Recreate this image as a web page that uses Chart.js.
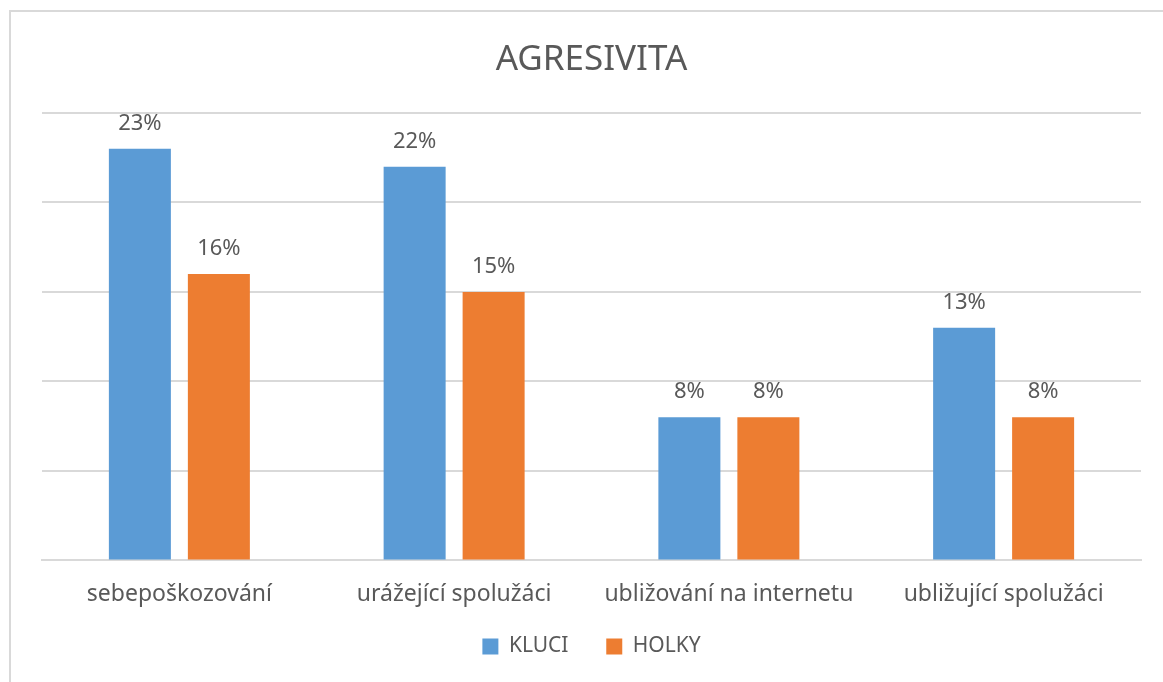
<!DOCTYPE html>
<html>
<head>
<meta charset="utf-8">
<script src="https://cdn.jsdelivr.net/npm/chart.js@4.4.0/dist/chart.umd.min.js"></script>
<style>
  html, body { margin: 0; padding: 0; background: #fff; }
  #frame {
    position: absolute; left: 9px; top: 10px; width: 1154px; height: 672px;
    border-left: 2px solid #d9d9d9; border-top: 2px solid #d9d9d9;
  }
  #wrap { position: absolute; left: 0; top: 0; width: 1163px; height: 682px; }
</style>
</head>
<body>
<div id="frame"></div>
<div id="wrap"><canvas id="myChart"></canvas></div>
<script>
const categories = ['sebepoškozování', 'urážející spolužáci', 'ubližování na internetu', 'ubližující spolužáci']
const kluci = [23, 22, 8, 13]
const holky = [16, 15, 8, 8]
const seriesNames = ['KLUCI', 'HOLKY']
const chartTitle = 'AGRESIVITA'

const textColor = '#595959'
const fontFamily = '"Noto Sans", "Open Sans", sans-serif'

// draws the "23%" style labels above the bars
const valueLabels = {
    id: 'valueLabels',
    afterDatasetsDraw(chart) {
        const ctx = chart.ctx
        ctx.save()
        ctx.font = '22px ' + fontFamily
        ctx.fillStyle = textColor
        ctx.textAlign = 'center'
        ctx.textBaseline = 'middle'
        chart.data.datasets.forEach((ds, i) => {
            const meta = chart.getDatasetMeta(i)
            meta.data.forEach((bar, j) => {
                ctx.fillText(ds.data[j] + '%', bar.x, bar.y - 25)
            })
        })
        ctx.restore()
    }
}

const ctx = document.getElementById('myChart')
const myChart = new Chart(ctx, {
    type: 'bar',
    data: {
        labels: categories,
        datasets: [
            { label: seriesNames[0], data: kluci, backgroundColor: '#5B9BD5' },
            { label: seriesNames[1], data: holky, backgroundColor: '#ED7D31' }
        ]
    },
    options: {
        responsive: true,
        maintainAspectRatio: false,
        animation: false,
        categoryPercentage: 0.575,
        barPercentage: 0.785,
        layout: { padding: { left: 42, right: 22, top: 20, bottom: 15 } },
        plugins: {
            title: {
                display: true,
                text: chartTitle,
                color: textColor,
                font: { size: 35, family: fontFamily, weight: 'normal' },
                padding: { top: 19, bottom: 32 }
            },
            legend: {
                position: 'bottom',
                labels: {
                    color: textColor,
                    font: { size: 21, family: fontFamily },
                    boxWidth: 16,
                    boxHeight: 16,
                    padding: 16,
                    // wider gap between the two items, like the original
                    generateLabels(chart) {
                        const items = Chart.defaults.plugins.legend.labels.generateLabels(chart)
                        items[0].text = items[0].text + '    '
                        return items
                    }
                }
            },
            tooltip: { enabled: false }
        },
        scales: {
            x: {
                grid: { display: false },
                border: { color: '#d9d9d9', width: 2 },
                ticks: { color: textColor, font: { size: 23, family: fontFamily }, padding: 12 }
            },
            y: {
                min: 0,
                max: 25,
                ticks: { display: false, stepSize: 5 },
                grid: { color: '#d9d9d9', lineWidth: 2, drawTicks: false },
                border: { display: false }
            }
        }
    },
    plugins: [valueLabels]
})
</script>
</body>
</html>
